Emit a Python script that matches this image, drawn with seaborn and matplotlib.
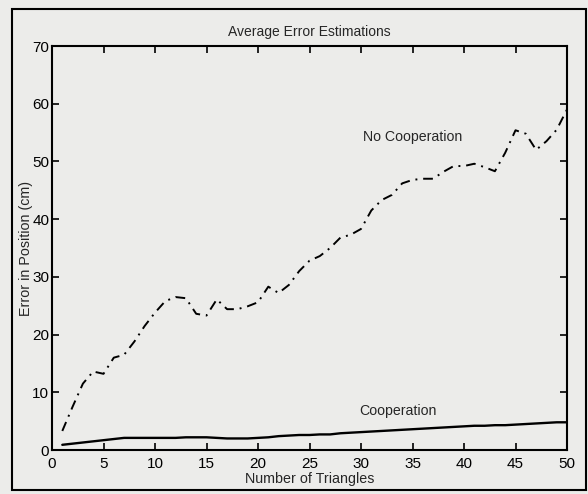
import matplotlib
matplotlib.use("Agg")
import matplotlib.pyplot as plt
import seaborn as sns
import pandas as pd
from matplotlib.patches import Rectangle

triangles = list(range(1, 51))
no_coop = [3.3, 7.5, 11.5, 13.6, 13.2, 16.0, 16.5, 18.8, 21.5, 23.8,
           25.8, 26.5, 26.3, 23.6, 23.3, 26.1, 24.4, 24.4, 24.9, 25.6,
           28.3, 27.2, 28.6, 31.0, 32.8, 33.6, 35.0, 36.8, 37.3, 38.3,
           41.5, 43.3, 44.2, 46.2, 46.8, 47.0, 47.0, 48.2, 49.2, 49.2,
           49.6, 49.0, 48.3, 51.5, 55.4, 54.8, 52.0, 53.5, 55.5, 59.0]
coop = [0.9, 1.1, 1.3, 1.5, 1.7, 1.9, 2.1, 2.1, 2.1, 2.1,
        2.1, 2.1, 2.2, 2.2, 2.2, 2.1, 2.0, 2.0, 2.0, 2.1,
        2.2, 2.4, 2.5, 2.6, 2.6, 2.7, 2.7, 2.9, 3.0, 3.1,
        3.2, 3.3, 3.4, 3.5, 3.6, 3.7, 3.8, 3.9, 4.0, 4.1,
        4.2, 4.2, 4.3, 4.3, 4.4, 4.5, 4.6, 4.7, 4.8, 4.8]
x_ticks = list(range(0, 51, 5))
y_ticks = list(range(0, 71, 10))

title = "Average Error Estimations"
xlabel = "Number of Triangles"
ylabel = "Error in Position (cm)"

sns.set_style("ticks")
plt.rcParams['font.family'] = ['Liberation Sans', 'DejaVu Sans']

bg = "#ececea"
fig = plt.figure(figsize=(5.88, 4.94), dpi=100, facecolor=bg)
ax = fig.add_axes([52/588, 1-450/494, (567-52)/588, (450-46)/494])
ax.set_facecolor(bg)

df = pd.DataFrame({"x": triangles, "no": no_coop, "co": coop})
sns.lineplot(data=df, x="x", y="no", ax=ax, color="black", linewidth=1.4,
             linestyle=(0, (5, 3, 1, 3)))
sns.lineplot(data=df, x="x", y="co", ax=ax, color="black", linewidth=1.7)

ax.set_xlim(0, 50)
ax.set_ylim(0, 70)
ax.set_xticks(x_ticks)
ax.set_yticks(y_ticks)
ax.tick_params(direction="in", length=5, width=1.2, top=True, right=True,
               labelsize=11, pad=2, colors="black")
ax.tick_params(axis="x", pad=5)
for s in ax.spines.values():
    s.set_linewidth(1.5)
    s.set_color("black")

ax.set_title(title, fontsize=10, pad=7)
ax.set_xlabel(xlabel, fontsize=10.3, labelpad=1)
ax.set_ylabel(ylabel, fontsize=10.3)
ax.yaxis.set_label_coords(-0.036, 0.5)

ax.text(35, 54.3, "No Cooperation", fontsize=10.2, ha="center", va="center")
ax.text(33.6, 6.8, "Cooperation", fontsize=10.2, ha="center", va="center")

fig.add_artist(Rectangle((12/588, 1-490/494), (586-12)/588, (490-9)/494,
                         transform=fig.transFigure, fill=False,
                         edgecolor="black", linewidth=1.5))

fig.savefig("out.png", dpi=100, facecolor=bg)
